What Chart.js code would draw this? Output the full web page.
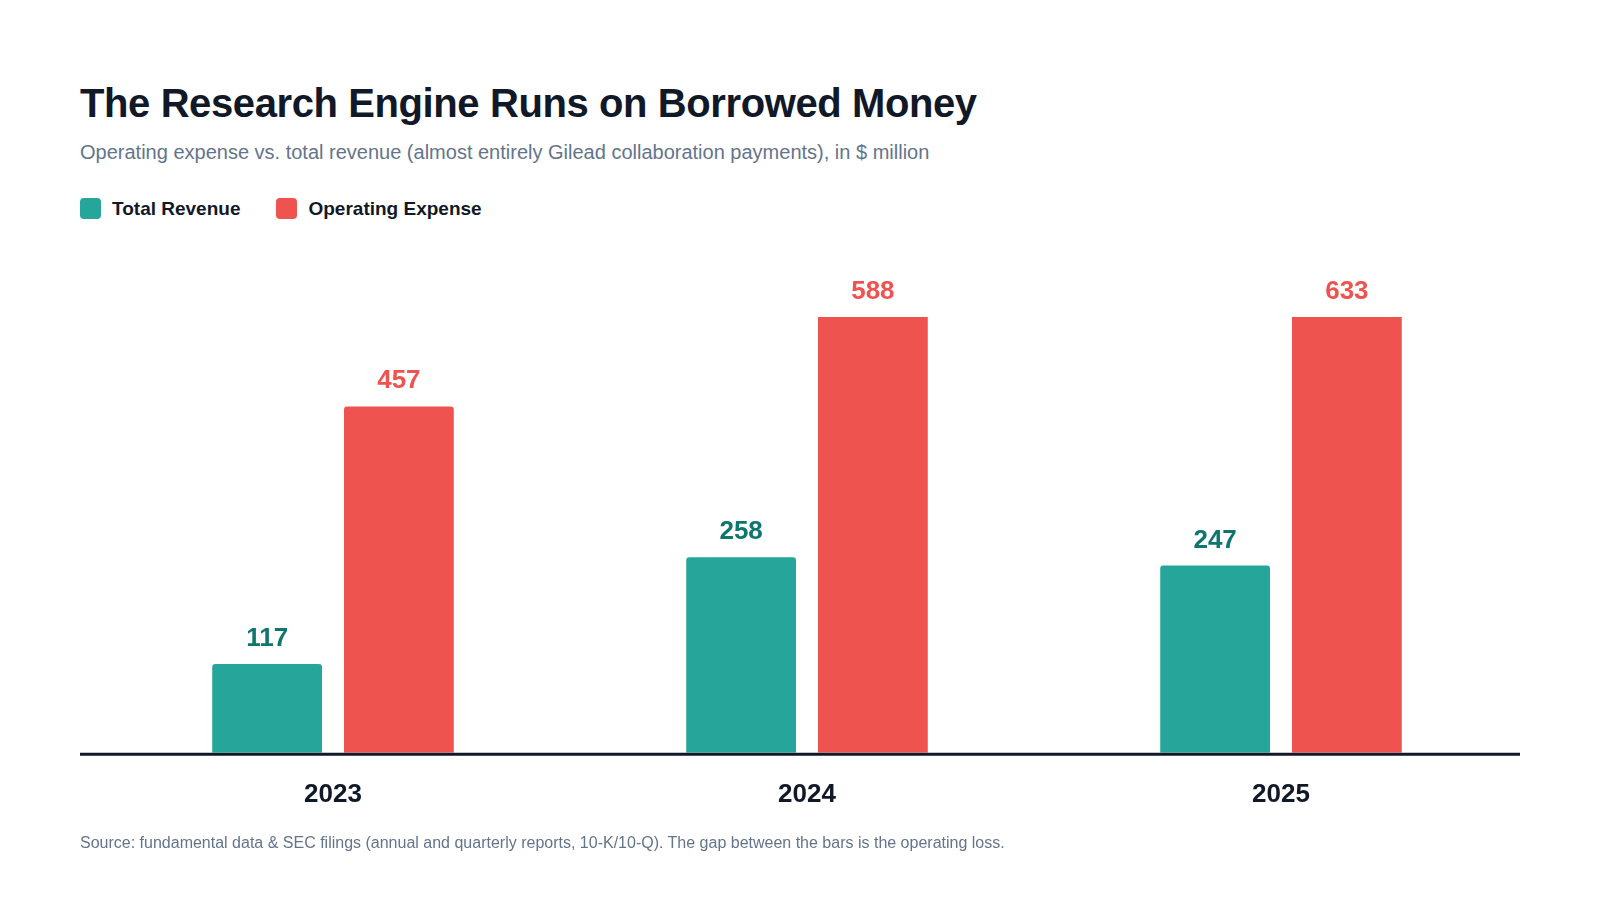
<!DOCTYPE html>
<html>
<head>
<meta charset="utf-8">
<script src="https://cdn.jsdelivr.net/npm/chart.js@4"></script>
<style>
  html, body { margin: 0; padding: 0; background: #fff; }
  body { width: 1600px; height: 900px; position: relative; overflow: hidden; font-family: "Liberation Sans", Arial, sans-serif; }
  .title { position: absolute; left: 80px; top: 83px; font-size: 40px; line-height: 40px; font-weight: bold; color: #111827; letter-spacing: -0.4px; white-space: nowrap; }
  .subtitle { position: absolute; left: 80px; top: 142px; font-size: 20px; line-height: 20px; color: #64748b; white-space: nowrap; }
  .legend { position: absolute; left: 80px; top: 198px; display: flex; gap: 36px; }
  .legend span { display: flex; align-items: center; font-size: 19px; font-weight: bold; color: #111827; line-height: 21px; }
  .legend i { display: inline-block; width: 21px; height: 21px; border-radius: 4px; margin-right: 11px; }
  .source { position: absolute; left: 80px; top: 835px; font-size: 16px; line-height: 16px; color: #64748b; white-space: nowrap; }
  #wrap { position: absolute; left: 0; top: 240px; width: 1600px; height: 596px; }
</style>
</head>
<body>
<div class="title">The Research Engine Runs on Borrowed Money</div>
<div class="subtitle">Operating expense vs. total revenue (almost entirely Gilead collaboration payments), in $ million</div>
<div class="legend" id="legend"></div>
<div id="wrap"><canvas id="chart"></canvas></div>
<div class="source">Source: fundamental data &amp; SEC filings (annual and quarterly reports, 10-K/10-Q). The gap between the bars is the operating loss.</div>
<script>
const years = ["2023", "2024", "2025"];
const revenue = [117, 258, 247];
const opex = [457, 588, 633];
const seriesNames = ["Total Revenue", "Operating Expense"];
const barColors = ["#26a69a", "#ef5350"];
const labelColors = ["#0f766e", "#ef5350"];
const yMax = 575;

// legend built from the series names
const legend = document.getElementById("legend");
seriesNames.forEach((name, i) => {
  const s = document.createElement("span");
  s.innerHTML = `<i style="background:${barColors[i]}"></i>${name}`;
  legend.appendChild(s);
});

// value labels above bars (clamped to the plot top for clipped bars)
const barLabels = {
  id: "barLabels",
  afterDatasetsDraw(chart) {
    const { ctx, chartArea } = chart;
    ctx.save();
    ctx.font = "bold 26px 'Liberation Sans', Arial, sans-serif";
    ctx.textAlign = "center";
    ctx.textBaseline = "alphabetic";
    chart.data.datasets.forEach((ds, i) => {
      ctx.fillStyle = labelColors[i];
      chart.getDatasetMeta(i).data.forEach((bar, j) => {
        const top = Math.max(bar.y, chartArea.top);
        ctx.fillText(ds.data[j], bar.x, top - 18);
      });
    });
    ctx.restore();
  }
};

// baseline under the bars
const baseLine = {
  id: "baseLine",
  afterDatasetsDraw(chart) {
    const { ctx, chartArea } = chart;
    ctx.save();
    ctx.strokeStyle = "#111827";
    ctx.lineWidth = 3;
    ctx.beginPath();
    ctx.moveTo(80, chartArea.bottom + 1.5);
    ctx.lineTo(chart.width - 80, chartArea.bottom + 1.5);
    ctx.stroke();
    ctx.restore();
  }
};

new Chart(document.getElementById("chart"), {
  type: "bar",
  data: {
    labels: years,
    datasets: [
      { label: seriesNames[0], data: revenue, backgroundColor: barColors[0] },
      { label: seriesNames[1], data: opex, backgroundColor: barColors[1] }
    ]
  },
  options: {
    responsive: true,
    maintainAspectRatio: false,
    animation: false,
    clip: 0,
    categoryPercentage: 0.556,
    barPercentage: 0.833,
    borderRadius: 3,
    borderSkipped: "bottom",
    layout: { padding: { left: 96, right: 82, top: 77, bottom: 0 } },
    plugins: {
      legend: { display: false },
      tooltip: { enabled: false }
    },
    scales: {
      x: {
        grid: { display: false, drawTicks: false },
        border: { display: false },
        ticks: {
          color: "#111827",
          padding: 26,
          font: { family: "'Liberation Sans', Arial, sans-serif", size: 26, weight: "bold" }
        }
      },
      y: {
        display: false,
        min: 0,
        max: yMax
      }
    }
  },
  plugins: [barLabels, baseLine]
});
</script>
</body>
</html>
